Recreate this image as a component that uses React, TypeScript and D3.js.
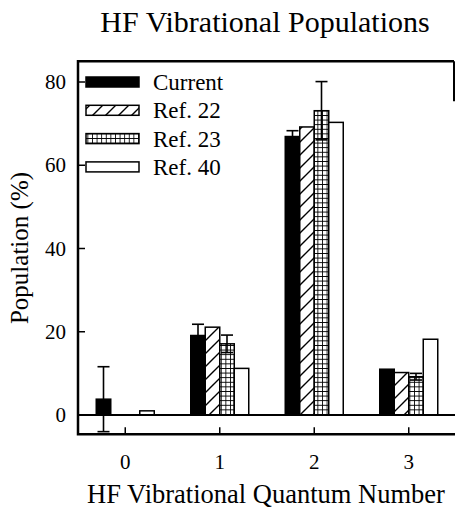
import * as d3 from 'd3';
import React from 'react';

// chart values
const categories = ['0', '1', '2', '3'];
const seriesNames = ['Current', 'Ref. 22', 'Ref. 23', 'Ref. 40'];
const current = [3.8, 19.1, 66.9, 11.0];
const currentErr = [7.8, 2.7, 1.4, 0];
const ref22 = [null, 21.1, 69.2, 10.2];
const ref23 = [null, 17.1, 73.1, 9.2];
const ref23Err = [0, 2.1, 7.0, 0.8];
const ref40 = [1.0, 11.2, 70.3, 18.2];
const yTicks = [0, 20, 40, 60, 80];

const seriesValues = [current, ref22, ref23, ref40];
const seriesErrors = [currentErr, null, ref23Err, null];
const fills = ['#000', 'url(#diag)', 'url(#grid)', '#fff'];

const W = 455;
const H = 508;
const left = 78;
const right = 454;
const font = '"Liberation Serif", "Times New Roman", serif';

export default function App() {
  const x = d3.scaleBand<string>().domain(categories).range([left, 456]);
  const sub = d3.scaleBand<string>().domain(seriesNames).range([-29, 29]);
  const y = d3.scaleLinear().domain([0, 80]).range([415, 82]);
  const top = y(85);
  const bottom = y(-4.6);
  const bw = sub.bandwidth();

  return (
    <svg width={W} height={H} style={{ position: 'absolute', left: 0, top: 0, background: '#fff' }}>
      <defs>
        <pattern id="diag" patternUnits="userSpaceOnUse" width={13} height={13}>
          <rect width={13} height={13} fill="#fff" />
          <path d="M-1,14 L14,-1 M-4,4 L4,-4 M9,17 L17,9" stroke="#000" strokeWidth={1.4} />
        </pattern>
        <pattern id="grid" patternUnits="userSpaceOnUse" width={4.6} height={4.6}>
          <rect width={4.6} height={4.6} fill="#fff" />
          <path d="M0,0 H4.6 M0,0 V4.6" stroke="#000" strokeWidth={1.7} />
        </pattern>
      </defs>

      <text x={265} y={32} textAnchor="middle" fontFamily={font} fontSize={30}>
        HF Vibrational Populations
      </text>

      {/* bars */}
      {seriesNames.map((s, si) =>
        categories.map((c, ci) => {
          const v = seriesValues[si][ci];
          if (v == null) return null;
          const bx = (x(c) as number) + x.bandwidth() / 2 + (sub(s) as number);
          return (
            <rect key={s + c} x={bx} y={y(v)} width={bw} height={y(0) - y(v)}
              fill={fills[si]} stroke="#000" strokeWidth={1.5} />
          );
        })
      )}

      {/* error bars */}
      {seriesNames.map((s, si) => {
        const errs = seriesErrors[si];
        if (!errs) return null;
        return categories.map((c, ci) => {
          const v = seriesValues[si][ci];
          const e = errs[ci];
          if (v == null || !e) return null;
          const cx = (x(c) as number) + x.bandwidth() / 2 + (sub(s) as number) + bw / 2;
          return (
            <g key={'e' + s + c} stroke="#000" strokeWidth={1.6}>
              <line x1={cx} x2={cx} y1={y(v - e)} y2={y(v + e)} />
              <line x1={cx - 6} x2={cx + 6} y1={y(v + e)} y2={y(v + e)} />
              <line x1={cx - 6} x2={cx + 6} y1={y(v - e)} y2={y(v - e)} />
            </g>
          );
        });
      })}

      {/* zero line */}
      <line x1={left} x2={W} y1={y(0)} y2={y(0)} stroke="#000" strokeWidth={2} />

      {/* frame */}
      <path d={`M${right},${top} H${left} V${bottom} H${W}`} fill="none" stroke="#000" strokeWidth={2.5} />
      <line x1={right} x2={right} y1={top} y2={top + 40} stroke="#000" strokeWidth={2} />

      {/* y axis */}
      {yTicks.map(t => (
        <g key={'y' + t}>
          <line x1={left} x2={left + 7} y1={y(t)} y2={y(t)} stroke="#000" strokeWidth={1.5} />
          <text x={66} y={y(t) + 7} textAnchor="end" fontFamily={font} fontSize={21}>{t}</text>
        </g>
      ))}
      <text transform={`translate(28,248) rotate(-90)`} textAnchor="middle" fontFamily={font} fontSize={25}>
        Population (%)
      </text>

      {/* x axis */}
      {categories.map(c => {
        const cx = (x(c) as number) + x.bandwidth() / 2;
        return (
          <g key={'x' + c}>
            <line x1={cx} x2={cx} y1={bottom} y2={bottom - 7} stroke="#000" strokeWidth={1.5} />
            <text x={cx} y={469} textAnchor="middle" fontFamily={font} fontSize={21}>{c}</text>
          </g>
        );
      })}
      <text x={266} y={503} textAnchor="middle" fontFamily={font} fontSize={26.5}>
        HF Vibrational Quantum Number
      </text>

      {/* legend */}
      {seriesNames.map((s, i) => {
        const ly = y(80) + i * 28.3;
        return (
          <g key={'l' + s}>
            <rect x={86} y={ly - 5} width={53} height={10} fill={fills[i]} stroke="#000" strokeWidth={1.5} />
            <text x={153} y={ly + 8} fontFamily={font} fontSize={23}>{s}</text>
          </g>
        );
      })}
    </svg>
  );
}
